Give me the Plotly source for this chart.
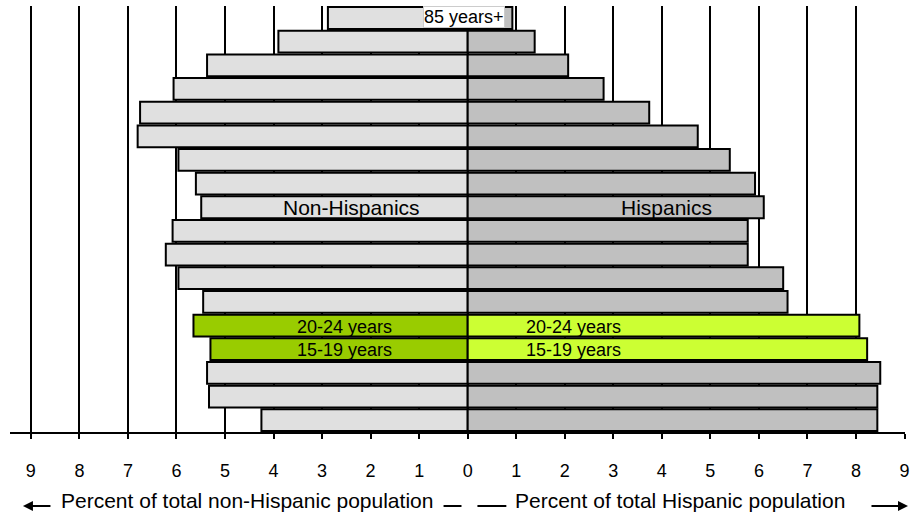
import plotly.graph_objects as go

age_groups = ["0-4 years", "5-9 years", "10-14 years", "15-19 years", "20-24 years",
              "25-29 years", "30-34 years", "35-39 years", "40-44 years", "45-49 years",
              "50-54 years", "55-59 years", "60-64 years", "65-69 years", "70-74 years",
              "75-79 years", "80-84 years", "85 years+"]
non_hispanic = [4.25, 5.33, 5.37, 5.30, 5.65, 5.45, 5.96, 6.22, 6.08, 5.49,
                5.60, 5.96, 6.80, 6.75, 6.06, 5.37, 3.90, 2.88]
hispanic = [8.44, 8.44, 8.50, 8.23, 8.07, 6.59, 6.50, 5.77, 5.77, 6.10,
            5.92, 5.40, 4.74, 3.74, 2.80, 2.07, 1.38, 0.92]
tick_values = list(range(-9, 10))
tick_labels = [str(abs(v)) for v in tick_values]
highlight = ["15-19 years", "20-24 years"]

left_colors = ["#99CC00" if a in highlight else "#E0E0E0" for a in age_groups]
right_colors = ["#CCFF33" if a in highlight else "#C0C0C0" for a in age_groups]

FONT = "Liberation Sans, Arial, sans-serif"

fig = go.Figure()
fig.add_trace(go.Bar(
    y=age_groups, x=[-v for v in non_hispanic], orientation="h",
    marker=dict(color=left_colors, line=dict(color="black", width=2)),
    name="Non-Hispanics", showlegend=False, hoverinfo="skip"))
fig.add_trace(go.Bar(
    y=age_groups, x=hispanic, orientation="h",
    marker=dict(color=right_colors, line=dict(color="black", width=2)),
    name="Hispanics", showlegend=False, hoverinfo="skip"))

fig.update_layout(
    width=916, height=518,
    margin=dict(l=10, r=8, t=6, b=86),
    paper_bgcolor="white", plot_bgcolor="white",
    barmode="relative", bargap=0.08,
    font=dict(family=FONT, color="black"),
    xaxis=dict(range=[-9.43, 9.01], tickvals=tick_values, ticktext=tick_labels,
               showgrid=True, gridcolor="black", gridwidth=2,
               zeroline=True, zerolinecolor="black", zerolinewidth=2,
               showline=True, linecolor="black", linewidth=2,
               ticks="outside", ticklen=5, tickwidth=1.5, tickcolor="black",
               ticklabelstandoff=16,
               tickfont=dict(size=18, family=FONT, color="black"), fixedrange=True),
    yaxis=dict(showticklabels=False, showgrid=False, zeroline=False,
               categoryorder="array", categoryarray=age_groups, fixedrange=True),
)

ann = [
    dict(x=-2.39, y="45-49 years", text="Non-Hispanics", showarrow=False,
         font=dict(size=21)),
    dict(x=4.09, y="45-49 years", text="Hispanics", showarrow=False,
         font=dict(size=21)),
    dict(x=-2.53, y="20-24 years", text="20-24 years", showarrow=False,
         font=dict(size=18), yshift=-1),
    dict(x=-2.53, y="15-19 years", text="15-19 years", showarrow=False,
         font=dict(size=18), yshift=-1),
    dict(x=1.17, y="20-24 years", text="20-24 years", showarrow=False, xanchor="left",
         font=dict(size=18), yshift=-1),
    dict(x=1.17, y="15-19 years", text="15-19 years", showarrow=False, xanchor="left",
         font=dict(size=18), yshift=-1),
    dict(x=-0.07, y="85 years+", text="85 years+", showarrow=False,
         font=dict(size=18), bgcolor="white", bordercolor="#CCCCCC", borderwidth=1,
         borderpad=0, yshift=1),
]


def px(xp):
    return (xp - 10) / 898.0


def py(yp):
    return (432 - yp) / 426.0


ann += [
    dict(xref="paper", yref="paper", x=px(247.5), y=py(500), xanchor="center",
         yanchor="middle", text="Percent of total non-Hispanic population",
         showarrow=False, font=dict(size=21)),
    dict(xref="paper", yref="paper", x=px(682.5), y=py(500), xanchor="center",
         yanchor="middle", text="Percent of total Hispanic population",
         showarrow=False, font=dict(size=21)),
    dict(xref="paper", yref="paper", x=px(23), y=py(506), text="", showarrow=True,
         ax=29, ay=0, arrowhead=2, arrowsize=1, arrowwidth=2, arrowcolor="black"),
    dict(xref="paper", yref="paper", x=px(911), y=py(506), text="", showarrow=True,
         ax=-38, ay=0, arrowhead=2, arrowsize=1, arrowwidth=2, arrowcolor="black"),
]
fig.update_layout(annotations=ann)

shapes = []
for x0, x1 in [(445, 463), (479, 508)]:
    shapes.append(dict(type="line", xref="paper", yref="paper",
                       x0=px(x0), x1=px(x1), y0=py(506), y1=py(506),
                       line=dict(color="black", width=2)))
fig.update_layout(shapes=shapes)

fig.write_html("out.html", config={"displayModeBar": False},
               post_script="document.body.style.margin='0';")
